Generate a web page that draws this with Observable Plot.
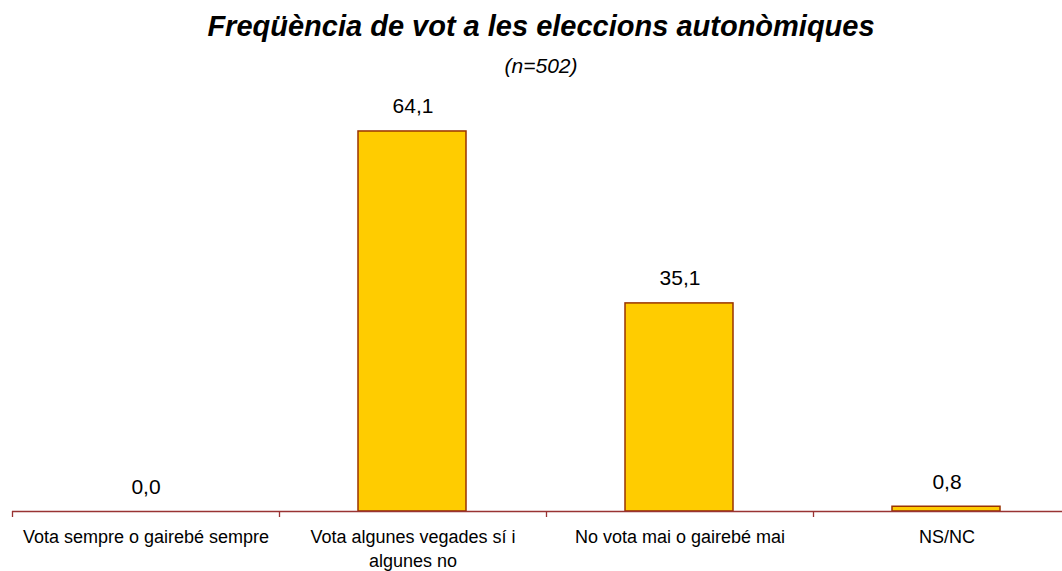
<!DOCTYPE html>
<html>
<head>
<meta charset="utf-8">
<script src="https://cdn.jsdelivr.net/npm/d3@7"></script>
<script src="https://cdn.jsdelivr.net/npm/@observablehq/plot@0.6"></script>
<style>
  html, body { margin: 0; padding: 0; background: #fff; }
  #wrap { width: 1062px; height: 571px; overflow: hidden; position: relative; font-family: "Liberation Sans", Arial, sans-serif; }
  #head { position: relative; height: 80px; width: 1062px; }
  #title { position: absolute; left: 20px; right: 0; top: 12px; text-align: center; font-size: 29px; line-height: 29px; font-weight: bold; font-style: italic; color: #000; }
  #subtitle { position: absolute; left: 20px; right: 0; top: 55px; text-align: center; font-size: 21px; line-height: 21px; font-style: italic; color: #000; }
  #chart svg { overflow: hidden; display: block; }
</style>
</head>
<body>
<div id="wrap">
  <div id="head">
    <div id="title"></div>
    <div id="subtitle"></div>
  </div>
  <div id="chart"></div>
</div>
<script>
const titleText = "Freqüència de vot a les eleccions autonòmiques";
const subtitleText = "(n=502)";
const categories = [
  "Vota sempre o gairebé sempre",
  "Vota algunes vegades sí i algunes no",
  "No vota mai o gairebé mai",
  "NS/NC"
];
const tickLabels = [
  "Vota sempre o gairebé sempre",
  "Vota algunes vegades sí i\nalgunes no",
  "No vota mai o gairebé mai",
  "NS/NC"
];
const values = [0.0, 64.1, 35.1, 0.8];

document.getElementById("title").textContent = titleText;
document.getElementById("subtitle").textContent = subtitleText;

const data = categories.map((c, i) => ({category: c, value: values[i]}));
const labelOf = new Map(categories.map((c, i) => [c, tickLabels[i]]));
const fmt = v => v.toFixed(1).replace(".", ",");
const axisColor = "#993333";

const chart = Plot.plot({
  width: 1062,
  height: 491,
  marginTop: 16,
  marginBottom: 60,
  marginLeft: 12,
  marginRight: 0,
  style: {fontFamily: "'Liberation Sans', Arial, sans-serif", background: "#fff", color: "#000"},
  x: {domain: categories, range: [12, 1080], padding: 0, label: null},
  y: {domain: [0, 70], axis: null},
  marks: [
    Plot.barY(data, {x: "category", y: "value", fill: "#FFCC00", stroke: "#993300", strokeWidth: 1.5, insetLeft: 79, insetRight: 80}),
    Plot.ruleY([0], {stroke: axisColor, strokeWidth: 1.3}),
    Plot.ruleX(categories, {x: d => d, y1: 0, y2: 0, dx: -133.5, insetBottom: -6, stroke: axisColor, strokeWidth: 1.3}),
    Plot.axisX({
      tickSize: 0, tickPadding: 14, fontSize: 18, lineHeight: 1.35,
      tickFormat: d => labelOf.get(d), fill: "#000"
    }),
    Plot.text(data, {x: "category", y: "value", text: d => fmt(d.value), dy: -18, lineAnchor: "bottom", fontSize: 21, fill: "#000"})
  ]
});
document.getElementById("chart").appendChild(chart);
</script>
</body>
</html>
